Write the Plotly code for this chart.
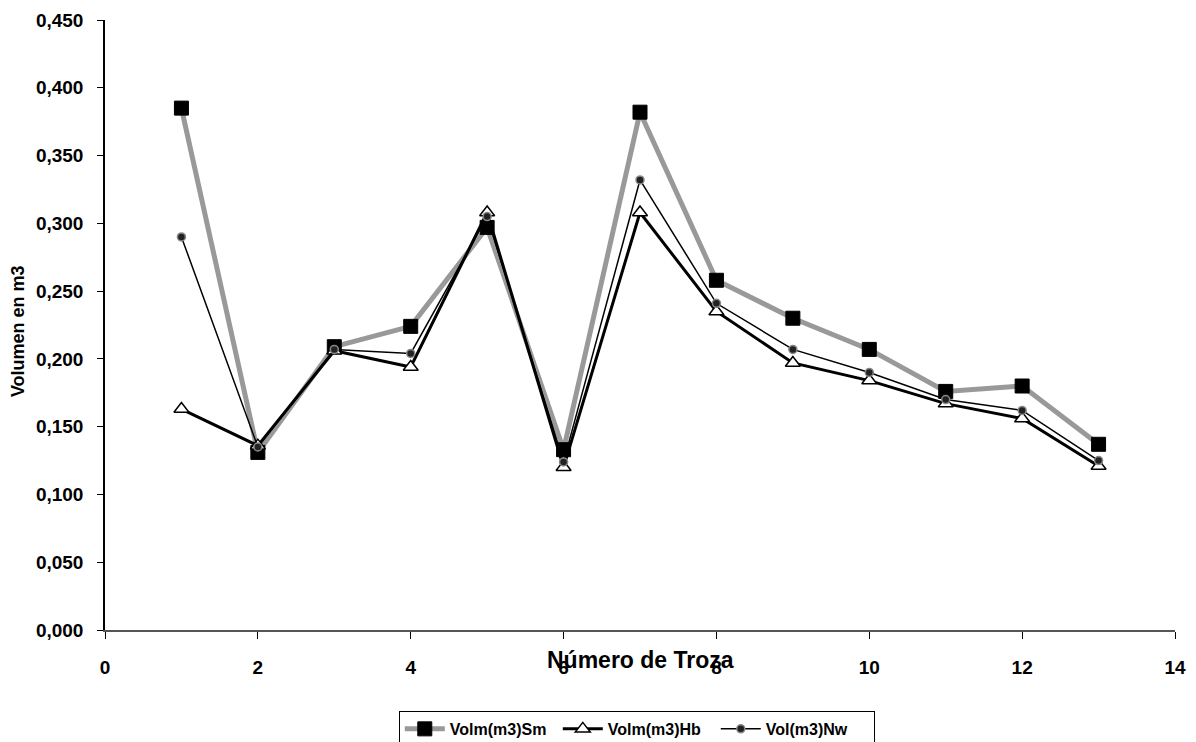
import plotly.graph_objects as go

troza = [1, 2, 3, 4, 5, 6, 7, 8, 9, 10, 11, 12, 13]
vol_sm = [0.385, 0.131, 0.209, 0.224, 0.297, 0.133, 0.382, 0.258, 0.230, 0.207, 0.176, 0.180, 0.137]
vol_hb = [0.163, 0.136, 0.206, 0.194, 0.308, 0.120, 0.308, 0.235, 0.197, 0.184, 0.167, 0.156, 0.121]
vol_nw = [0.290, 0.135, 0.207, 0.204, 0.305, 0.124, 0.332, 0.241, 0.207, 0.190, 0.170, 0.162, 0.125]

x_ticks = [0, 2, 4, 6, 8, 10, 12, 14]
y_ticks = [0.0, 0.05, 0.10, 0.15, 0.20, 0.25, 0.30, 0.35, 0.40, 0.45]
y_labels = ["0,000", "0,050", "0,100", "0,150", "0,200", "0,250", "0,300", "0,350", "0,400", "0,450"]

FONT = "Liberation Sans, Arial, sans-serif"

fig = go.Figure()
fig.add_trace(go.Scatter(
    x=troza, y=vol_sm, name="Volm(m3)Sm", mode="lines+markers",
    line=dict(color="#999999", width=5),
    marker=dict(symbol="square", size=14, color="black", line=dict(color="black", width=1)),
))
fig.add_trace(go.Scatter(
    x=troza, y=vol_hb, name="Volm(m3)Hb", mode="lines+markers",
    line=dict(color="black", width=3),
    marker=dict(symbol="triangle-up", size=13, color="white", line=dict(color="black", width=1.5)),
))
fig.add_trace(go.Scatter(
    x=troza, y=vol_nw, name="Vol(m3)Nw", mode="lines+markers",
    line=dict(color="black", width=1.5),
    marker=dict(symbol="circle", size=8, color="#222222", line=dict(color="#888888", width=1.5)),
))

fig.update_layout(
    width=1196, height=742,
    margin=dict(l=97, r=29, t=12, b=120),
    plot_bgcolor="white", paper_bgcolor="white",
    font=dict(family=FONT, color="black"),
    showlegend=True,
    legend=dict(
        orientation="h", x=0.497, xanchor="center", xref="paper",
        y=0.0526, yanchor="top", yref="container",
        bordercolor="black", borderwidth=1, bgcolor="white",
        font=dict(family=FONT, size=16, color="black", weight="bold"),
        itemwidth=40, entrywidth=103, tracegroupgap=0,
    ),
    xaxis=dict(
        range=[0, 14], tickvals=x_ticks, ticktext=[str(v) for v in x_ticks],
        showgrid=False, zeroline=False, showline=True, linecolor="#555555", linewidth=1.5,
        ticks="outside", ticklen=7, tickcolor="black", tickwidth=1, automargin=False,
        tickfont=dict(family=FONT, size=19, color="black", weight="bold"),
        ticklabelstandoff=12,
    ),
    yaxis=dict(
        range=[0, 0.45], tickvals=y_ticks, ticktext=y_labels,
        showgrid=False, zeroline=False, showline=True, linecolor="black", linewidth=1.5,
        ticks="outside", ticklen=6, tickcolor="black", tickwidth=1, automargin=False,
        tickfont=dict(family=FONT, size=19, color="black", weight="bold"),
        ticklabelstandoff=10,
    ),
    annotations=[
        dict(
            text="<b>Número de Troza</b>", x=0.5, xref="paper", y=-0.049, yref="paper",
            yanchor="middle", xanchor="center", showarrow=False,
            font=dict(family=FONT, size=23, color="black"),
        ),
        dict(
            text="<b>Volumen en m3</b>", x=-0.0813, xref="paper", y=0.49, yref="paper",
            yanchor="middle", xanchor="center", showarrow=False, textangle=-90,
            font=dict(family=FONT, size=18, color="black"),
        ),
    ],
)

fig.write_html("out.html")
